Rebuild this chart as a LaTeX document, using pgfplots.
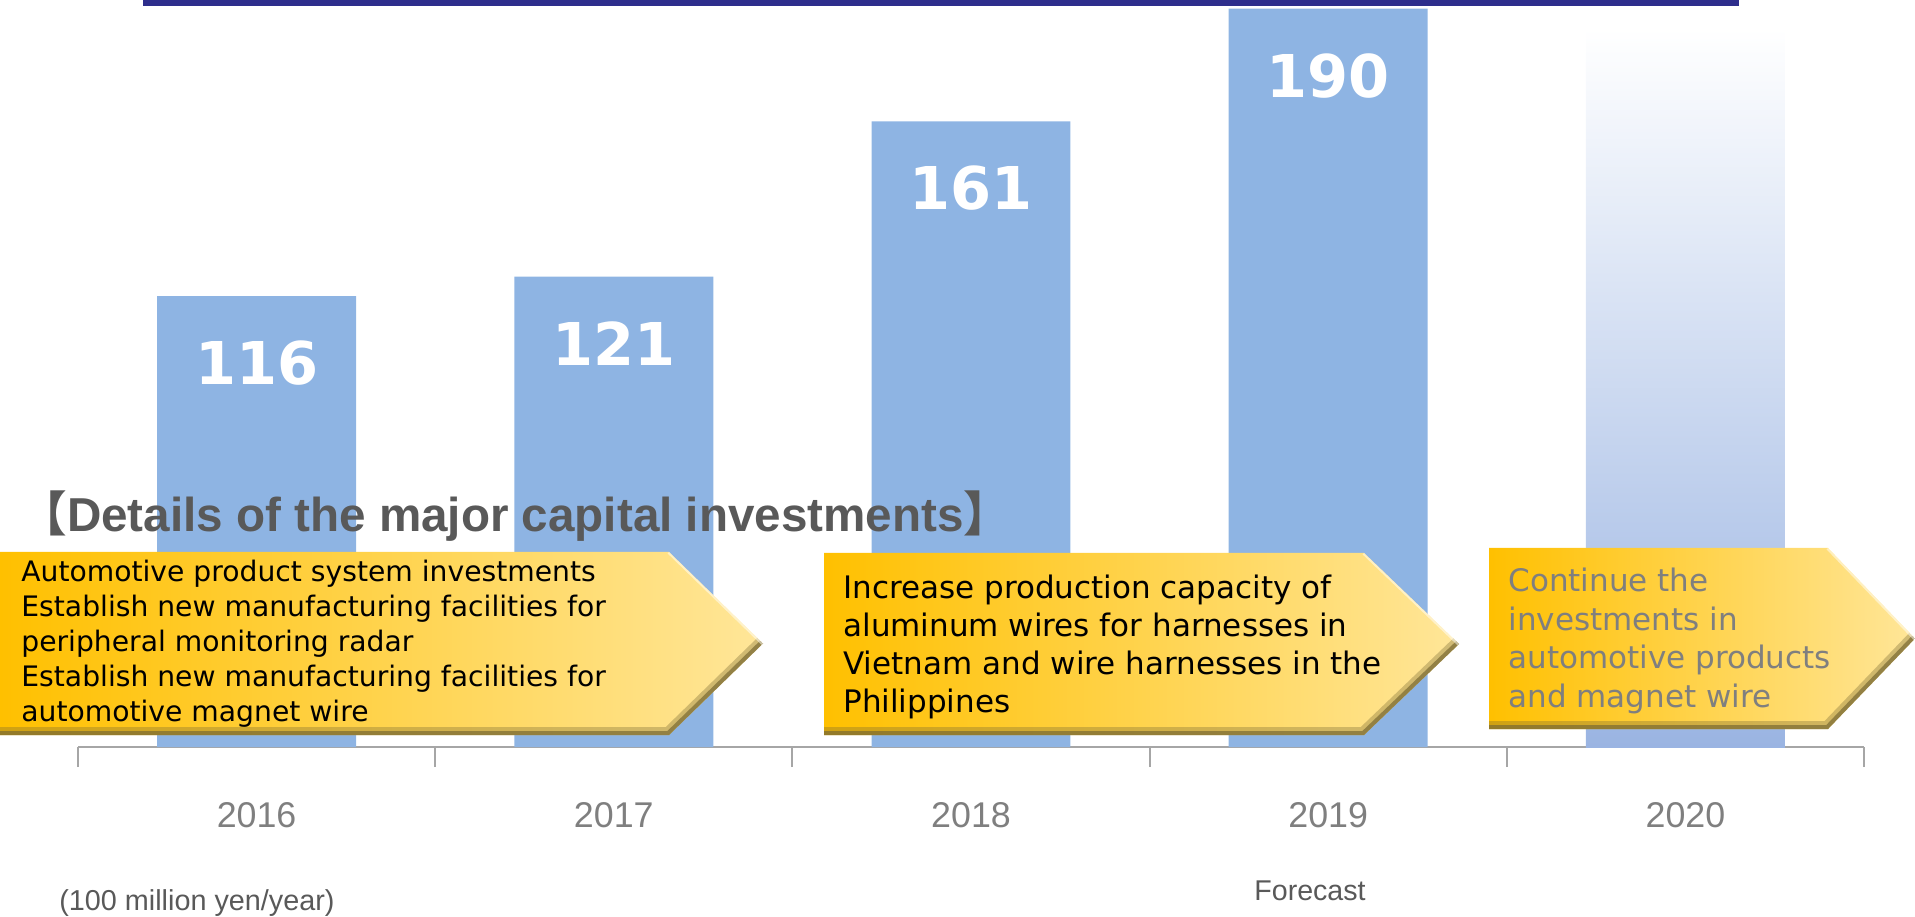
\documentclass[border=0pt]{standalone}
\usepackage{pgfplots}
\pgfplotsset{compat=1.18}
\usepackage{fontspec}
\setmainfont{Liberation Sans}
\newfontfamily\verd{DejaVu Sans}
\newfontfamily\cjk{Noto Sans CJK JP}

\definecolor{barblue}{HTML}{8EB4E3}
\definecolor{barfade}{HTML}{9AB4E2}
\definecolor{arrowL}{HTML}{FFC000}
\definecolor{arrowR}{HTML}{FFE699}
\definecolor{navy}{HTML}{2E2E8C}
\definecolor{axisgray}{HTML}{A6A6A6}
\definecolor{yeargray}{HTML}{7F7F7F}
\definecolor{titlegray}{HTML}{595959}
\definecolor{bevel}{HTML}{7A6A33}

% chevron: left, bottom, top, body right, tip (px)
\newcommand{\chev}[5]{%
  \shade[left color=arrowL, right color=arrowR]
    (#1,#2) -- (#4,#2) -- (#5,{(#2+#3)/2}) -- (#4,#3) -- (#1,#3) -- cycle;
  \begin{scope}
    \clip (#1,#2) -- (#4,#2) -- (#5,{(#2+#3)/2}) -- (#4,#3) -- (#1,#3) -- cycle;
    \draw[bevel, opacity=0.35, line width=8pt, line join=miter]
      (#1,#2) -- (#4,#2) -- (#5,{(#2+#3)/2});
    \draw[bevel, opacity=0.7, line width=4pt, line join=miter]
      (#1,#2) -- (#4,#2) -- (#5,{(#2+#3)/2});
    \draw[white, opacity=0.5, line width=2pt] (#5,{(#2+#3)/2}) -- (#4,#3);
  \end{scope}}

\begin{document}
\begin{tikzpicture}
\path[use as bounding box] (0,0) rectangle (957.5pt,458pt);

\begin{axis}[
  at={(39pt,84.5pt)}, anchor=south west,
  width=893pt, height=373.5pt, scale only axis,
  xmin=-0.5, xmax=4.5, ymin=0, ymax=192.2,
  axis y line=none, axis x line*=bottom,
  axis line style={draw=axisgray, line width=1pt},
  xtick={-0.5,0.5,1.5,2.5,3.5,4.5},
  xticklabels={2016,2017,2018,2019,2020},
  x tick label as interval,
  tick align=outside, major tick length=10pt,
  tick style={draw=axisgray, line width=1pt},
  xticklabel style={font=\fontsize{17.9}{20}\selectfont, text=yeargray,
                    anchor=center, yshift=-24.2pt},
  /pgf/number format/assume math mode=true,
  bar width=0.557, clip=false,
]
  \addplot[ybar, fill=barblue, draw=none,
           nodes near coords,
           every node near coord/.append style={
             font=\verd\bfseries\fontsize{29.5}{30}\selectfont,
             text=white, anchor=center, yshift=-33.5pt}]
    coordinates {(0,116) (1,121) (2,161) (3,190)};
  \addplot[ybar, draw=none, top color=white, bottom color=barfade]
    coordinates {(4,185)};
\end{axis}

\begin{scope}[x=0.5pt, y=0.5pt]
  \fill[navy] (143,910) rectangle (1739,916);

  \node[anchor=base west, inner sep=0, text=titlegray,
        font=\bfseries\fontsize{23.8}{26}\selectfont]
    at (19,384.5) {{\cjk 【}Details of the major capital investments{\cjk 】}};

  \chev{0}{181}{364}{669}{763}
  \chev{824}{181}{363}{1364}{1459}
  \chev{1489}{187}{368}{1828}{1915}

  \node[anchor=west, inner sep=0, align=left,
        font=\verd\fontsize{14.1}{17.5}\selectfont] at (21,272)
    {Automotive product system investments\\
     Establish new manufacturing facilities for\\
     peripheral monitoring radar\\
     Establish new manufacturing facilities for\\
     automotive magnet wire};
  \node[anchor=west, inner sep=0, align=left,
        font=\verd\fontsize{15.5}{19}\selectfont] at (843,269)
    {Increase production capacity of\\
     aluminum wires for harnesses in\\
     Vietnam and wire harnesses in the\\
     Philippines};
  \node[anchor=west, inner sep=0, align=left, text=yeargray,
        font=\verd\fontsize{15.5}{19.2}\selectfont] at (1508,275)
    {Continue the\\
     investments in\\
     automotive products\\
     and magnet wire};

  \node[text=titlegray, font=\fontsize{14.3}{16}\selectfont] at (1310,25) {Forecast};
  \node[text=titlegray, font=\fontsize{14.4}{16}\selectfont] at (197,13) {(100 million yen/year)};
\end{scope}
\end{tikzpicture}
\end{document}
